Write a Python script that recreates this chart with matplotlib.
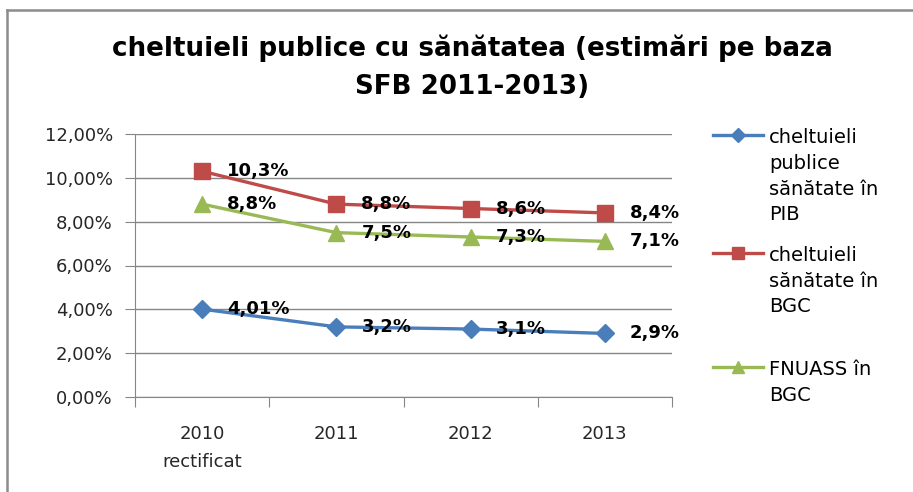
import matplotlib.pyplot as plt
from matplotlib.lines import Line2D

# data
categories = ['2010\nrectificat', '2011', '2012', '2013']
pib = [4.01, 3.2, 3.1, 2.9]
bgc = [10.3, 8.8, 8.6, 8.4]
fnuass = [8.8, 7.5, 7.3, 7.1]
pib_labels = ['4,01%', '3,2%', '3,1%', '2,9%']
bgc_labels = ['10,3%', '8,8%', '8,6%', '8,4%']
fnuass_labels = ['8,8%', '7,5%', '7,3%', '7,1%']
legend_names = ['cheltuieli\npublice\nsănătate în\nPIB', 'cheltuieli\nsănătate în\nBGC', 'FNUASS în\nBGC']

W, H = 913, 492
fig = plt.figure(figsize=(W / 100, H / 100), dpi=100)


def fx(px):
    return px / W


def fy(py):
    return 1 - py / H


# outer frame (left + top)
fig.add_artist(Line2D([fx(7), fx(7)], [fy(10), 0], color='#8c8c8c', lw=1.8))
fig.add_artist(Line2D([fx(7), 1], [fy(10), fy(10)], color='#8c8c8c', lw=1.8))

fig.text(fx(472), fy(67), 'cheltuieli publice cu sănătatea (estimări pe baza\nSFB 2011-2013)',
         ha='center', va='center', fontsize=18.8, fontweight='bold', family='DejaVu Sans',
         linespacing=1.6)

ax = fig.add_axes([fx(135), fy(397), fx(672) - fx(135), (397 - 134) / H])
x = list(range(len(categories)))
series = [(pib, pib_labels, '#4A7EBB', 'D', 9), (bgc, bgc_labels, '#BE4B48', 's', 11),
          (fnuass, fnuass_labels, '#98B954', '^', 12)]
for vals, labs, col, mk, ms in series:
    ax.plot(x, vals, color=col, lw=2.4, marker=mk, markersize=ms, zorder=3)
    for xi, v, t in zip(x, vals, labs):
        ax.annotate(t, (xi, v), xytext=(18, 0), textcoords='offset points', va='center',
                    ha='left', fontsize=13, fontweight='bold', family='DejaVu Sans', zorder=4)

ax.set_xlim(-0.5, 3.5)
ax.set_ylim(0, 12)
ax.set_yticks(range(0, 13, 2))
ax.set_yticklabels(['%d,00%%' % v for v in range(0, 13, 2)], fontsize=13, color='#262626')
ax.set_xticks([-0.5, 0.5, 1.5, 2.5, 3.5])
ax.set_xticklabels([])
ax.set_xticks(x, minor=True)
ax.set_xticklabels(categories, minor=True, fontsize=13, color='#262626', linespacing=1.7)
ax.tick_params(axis='x', which='minor', length=0, pad=20)
ax.tick_params(axis='x', which='major', length=7, color='#868686')
ax.tick_params(axis='y', length=7, color='#868686', pad=9)
ax.grid(axis='y', color='#868686', lw=1)
ax.set_axisbelow(True)
for s in ['top', 'right']:
    ax.spines[s].set_visible(False)
for s in ['left', 'bottom']:
    ax.spines[s].set_color('#868686')

# legend
leg = [('#4A7EBB', 'D', 7, 135), ('#BE4B48', 's', 9, 253), ('#98B954', '^', 9, 367)]
for (col, mk, ms, py), name in zip(leg, legend_names):
    fig.add_artist(Line2D([fx(713), fx(763)], [fy(py), fy(py)], color=col, lw=2.4))
    fig.add_artist(Line2D([fx(738)], [fy(py)], color=col, marker=mk, markersize=ms))
    fig.text(fx(769), fy(py - 7), name, ha='left', va='top', fontsize=14,
             family='DejaVu Sans', linespacing=1.45)

fig.savefig('out.png', dpi=100)
